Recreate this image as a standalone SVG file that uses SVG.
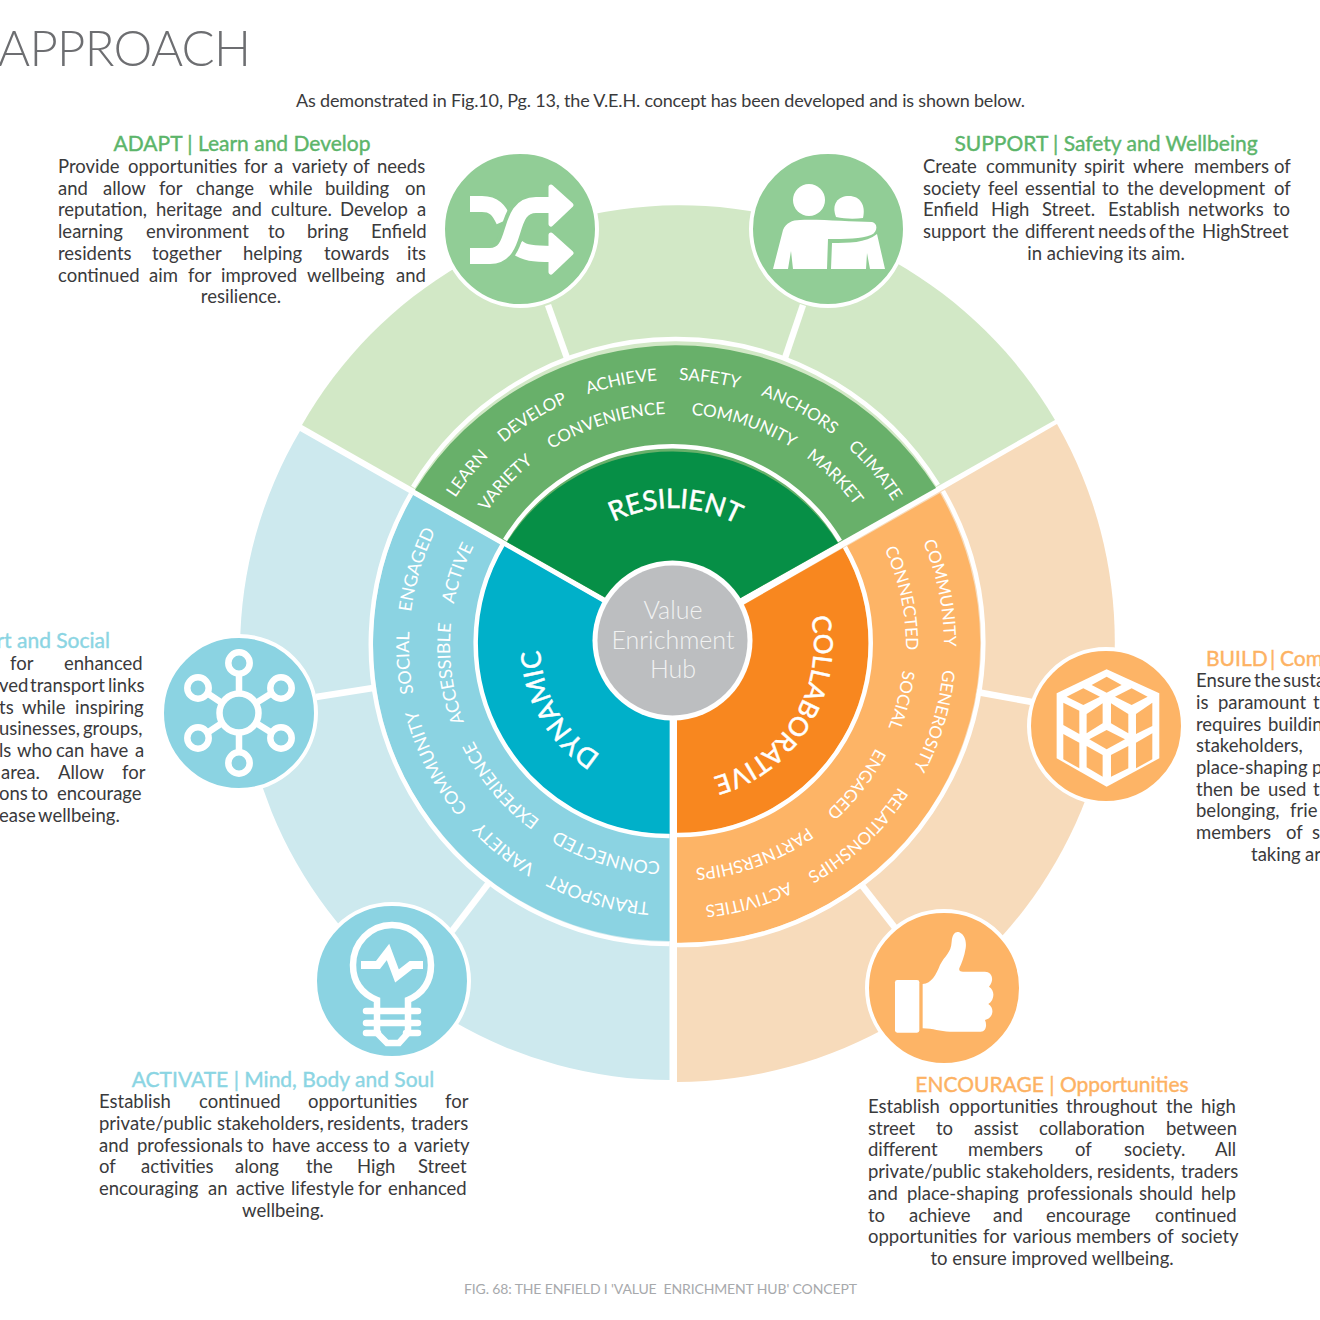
<svg xmlns="http://www.w3.org/2000/svg" width="1320" height="1320" viewBox="0 0 1320 1320">
<style>
text{font-family:Lato,"Noto Sans","Liberation Sans",sans-serif}
.b{font-size:18.500px;fill:#3a3a3c}
.h{font-size:21px;stroke-width:.4}
.hg{fill:#5cb56a;stroke:#5cb56a}.hb{fill:#8bd5e3;stroke:#8bd5e3}.ho{fill:#fdb263;stroke:#fdb263}
.w{font-size:17px;fill:#fff;text-anchor:middle}
.wb{font-size:17.800px}
.W{font-size:27px;fill:#fff;text-anchor:middle;stroke:#fff;stroke-width:.5}
.c{text-anchor:middle}
.arc{fill:none;stroke:#fff;stroke-width:4.5}
.con{stroke:#fff;stroke-width:6.5;fill:none}
.ring{stroke:#fff;stroke-width:4}
.ig{fill:#fff}
.ln{fill:none;stroke:#fff}
</style>
<defs>
<path id="r260" d="M-260 0A260 260 0 0 1 260 0"/>
<path id="r226" d="M-226 0A226 226 0 0 1 226 0"/>
<path id="r258" d="M-258 0A258 258 0 0 1 258 0"/>
<path id="r217" d="M-217 0A217 217 0 0 1 217 0"/>
<path id="r262" d="M-262 0A262 262 0 0 1 262 0"/>
<path id="r224" d="M-224 0A224 224 0 0 1 224 0"/>
<path id="r134" d="M-134 0A134 134 0 0 1 134 0"/>
<path id="r130" d="M-130 0A130 130 0 0 1 130 0"/>
<path id="r137" d="M-137 0A137 137 0 0 1 137 0"/>
</defs>
<rect width="1320" height="1320" fill="#fff"/>
<text x="-2" y="66" font-size="49" font-weight="300" fill="#6d6e71" textLength="253">APPROACH</text>
<text x="296" y="107" font-size="18" fill="#3a3a3c" textLength="729">As demonstrated in Fig.10, Pg. 13, the V.E.H. concept has been developed and is shown below.</text>

<g id="outer-ring">
<path fill="#d2e8c6" d="M673 636L302 425A435 435 0 0 1 1055 420Z"/>
<path fill="#cde9ee" d="M670 641L300 431A430 430 0 0 0 669.500 1080V641Z"/>
<path fill="#f7dbbb" d="M677 643V1082A440 440 0 0 0 1057 424Z"/>
</g>

<g id="connectors">
<path class="con" d="M548 305L567 358"/>
<path class="con" d="M803 305L785 358"/>
<path class="con" d="M977 692L1032 702"/>
<path class="con" d="M860 883L896 929"/>
<path class="con" d="M316 697L373 688"/>
<path class="con" d="M452 931L488 884"/>
</g>

<g id="resilient">
<path fill="#68b06a" d="M673 636L415 490A308 308 0 0 1 936 488Z"/>
<path class="arc" d="M413 487A308 308 0 0 1 938 485"/>
<path fill="#068f46" d="M673 636L507 542A196 196 0 0 1 838 543Z"/>
<path class="arc" d="M505 540A196 196 0 0 1 840 541"/>
<text class="w" transform="translate(673 640) rotate(-51)"><textPath href="#r260" startOffset="50%">LEARN</textPath></text>
<text class="w" transform="translate(673 640) rotate(-32.300)"><textPath href="#r260" startOffset="50%">DEVELOP</textPath></text>
<text class="w" transform="translate(673 640) rotate(-11.300)"><textPath href="#r260" startOffset="50%">ACHIEVE</textPath></text>
<text class="w" transform="translate(673 640) rotate(8)"><textPath href="#r260" startOffset="50%">SAFETY</textPath></text>
<text class="w" transform="translate(673 640) rotate(28.800)"><textPath href="#r260" startOffset="50%">ANCHORS</textPath></text>
<text class="w" transform="translate(673 640) rotate(50)"><textPath href="#r260" startOffset="50%">CLIMATE</textPath></text>
<text class="w" transform="translate(673 640) rotate(-46.800)"><textPath href="#r226" startOffset="50%">VARIETY</textPath></text>
<text class="w" transform="translate(673 640) rotate(-17.200)"><textPath href="#r226" startOffset="50%">CONVENIENCE</textPath></text>
<text class="w" transform="translate(673 640) rotate(18.200)"><textPath href="#r226" startOffset="50%">COMMUNITY</textPath></text>
<text class="w" transform="translate(673 640) rotate(44.800)"><textPath href="#r226" startOffset="50%">MARKET</textPath></text>
<text class="W" transform="translate(673 642) rotate(1)"><textPath href="#r134" startOffset="50%">RESILIENT</textPath></text>
</g>

<g id="dynamic">
<path fill="#8bd3e2" d="M670 641L413 495A297 297 0 0 0 669.500 941V641Z"/>
<path class="arc" d="M411 494A300 300 0 0 0 669.500 944"/>
<path fill="#00b0c9" d="M670 641L504 546A190 190 0 0 0 669.500 834V641Z"/>
<path class="arc" d="M503 544A193 193 0 0 0 669.500 836"/>
<text class="w wb" transform="translate(667 645) rotate(-73.200)"><textPath href="#r258" startOffset="50%">ENGAGED</textPath></text>
<text class="w wb" transform="translate(667 645) rotate(-93.900)"><textPath href="#r258" startOffset="50%">SOCIAL</textPath></text>
<text class="w wb" transform="translate(667 645) rotate(-117)"><textPath href="#r258" startOffset="50%">COMMUNITY</textPath></text>
<text class="w wb" transform="translate(669 645) rotate(-141)"><textPath href="#r258" startOffset="50%">VARIETY</textPath></text>
<text class="w wb" transform="translate(670 645) rotate(-164)"><textPath href="#r258" startOffset="50%">TRANSPORT</textPath></text>
<text class="w wb" transform="translate(667 645) rotate(-71)"><textPath href="#r217" startOffset="50%">ACTIVE</textPath></text>
<text class="w wb" transform="translate(667 645) rotate(-97.500)"><textPath href="#r217" startOffset="50%">ACCESSIBLE</textPath></text>
<text class="w wb" transform="translate(668 645) rotate(-130)"><textPath href="#r217" startOffset="50%">EXPERIENCE</textPath></text>
<text class="w wb" transform="translate(670 645) rotate(-163)"><textPath href="#r217" startOffset="50%">CONNECTED</textPath></text>
<text class="W" transform="translate(670 645) rotate(-120)"><textPath href="#r130" startOffset="50%">DYNAMIC</textPath></text>
</g>

<g id="collaborative">
<path fill="#fdb466" d="M677 643L940 493A300 300 0 0 1 677 943Z"/>
<path class="arc" d="M943 491A303 303 0 0 1 677 945"/>
<path fill="#f8871f" d="M677 643L843 548A190 190 0 0 1 677 833Z"/>
<path class="arc" d="M845 547A192 192 0 0 1 677 835"/>
<text class="w" transform="translate(682 645) rotate(78.600)"><textPath href="#r262" startOffset="50%">COMMUNITY</textPath></text>
<text class="w" transform="translate(682 645) rotate(106.700)"><textPath href="#r262" startOffset="50%">GENEROSITY</textPath></text>
<text class="w" transform="translate(678.500 645) rotate(136.700)"><textPath href="#r262" startOffset="50%">RELATIONSHIPS</textPath></text>
<text class="w" transform="translate(677 645) rotate(164.300)"><textPath href="#r262" startOffset="50%">ACTIVITIES</textPath></text>
<text class="w" transform="translate(682 645) rotate(78)"><textPath href="#r224" startOffset="50%">CONNECTED</textPath></text>
<text class="w" transform="translate(680 645) rotate(104)"><textPath href="#r224" startOffset="50%">SOCIAL</textPath></text>
<text class="w" transform="translate(677 645) rotate(127.800)"><textPath href="#r224" startOffset="50%">ENGAGED</textPath></text>
<text class="w" transform="translate(677 645) rotate(159.800)"><textPath href="#r224" startOffset="50%">PARTNERSHIPS</textPath></text>
<text class="W" style="font-size:26px" transform="translate(677 645) rotate(121.500)"><textPath href="#r137" startOffset="50%">COLLABORATIVE</textPath></text>
</g>

<g id="hub">
<circle cx="672.500" cy="640.500" r="80" fill="#fff"/>
<circle cx="672.500" cy="640.500" r="75" fill="#bcbec0"/>
<g font-size="25" font-weight="300" fill="#f1f2f2">
<text class="c" x="673" y="619">Value</text>
<text class="c" x="673" y="649">Enrichment</text>
<text class="c" x="673" y="678">Hub</text>
</g>
</g>

<g id="adapt-icon">
<circle class="ring" cx="520" cy="229" r="77" fill="#91cd96"/>
<g class="ln" stroke-width="16">
<path d="M470 204H482C494 204 499 210 504 221"/>
<path d="M517 247C524 253 534 254 552 254"/>
<path d="M470 256H490C520 256 505 205 536 205H552" stroke="#91cd96" stroke-width="24"/>
<path d="M470 256H490C520 256 505 205 536 205H552"/>
</g>
<path class="ig" stroke="#fff" stroke-width="5" stroke-linejoin="round" d="M551 187L571 205L551 224Z"/>
<path class="ig" stroke="#fff" stroke-width="5" stroke-linejoin="round" d="M551 235L571 253L551 272Z"/>
</g>

<g id="support-icon">
<circle class="ring" cx="828" cy="229" r="77" fill="#91cd96"/>
<circle class="ig" cx="809" cy="200" r="16"/>
<path class="ig" d="M836 217C831 204 838 196 849 196C860 196 866 205 863 218C855 219 845 219 836 217Z"/>
<path class="ig" d="M773 269L783 230C786 223 792 220 800 220C820 219 850 222 872 222C878 223 878 232 871 235C862 239 845 239 828 239L827 269H793L791 251L788 269Z"/>
<path class="ig" d="M832 243C848 243 866 243 877 234L885 269H870L867 253L866 269H831Z"/>
</g>

<g id="build-icon">
<circle class="ring" cx="1106" cy="726" r="77" fill="#fdb466"/>
<g transform="translate(850 640) scale(.3333)">
<path class="ig" d="M770 88L928 160V355L770 440L620 355V160Z"/>
<g fill="#fdb466">
<path d="M770 110L815 135L770 158L725 135Z"/>
<path d="M700 145L750 170L700 195L650 170Z"/>
<path d="M845 145L893 170L845 195L795 170Z"/>
<path d="M770 270L825 298L770 328L718 298Z"/>
<path d="M640 188L688 212V282L640 255Z"/>
<path d="M710 222L758 190V250L710 280Z"/>
<path d="M640 282L688 308V385L640 358Z"/>
<path d="M710 318L758 345V410L710 382Z"/>
<path d="M783 190L835 222V280L783 250Z"/>
<path d="M858 222L907 188V258L858 282Z"/>
<path d="M783 345L835 318V385L783 410Z"/>
<path d="M858 308L907 280V358L858 385Z"/>
</g>
</g>
</g>

<g id="encourage-icon">
<circle class="ring" cx="944" cy="988" r="77" fill="#fdb466"/>
<g transform="translate(850 640) scale(.3333)">
<rect class="ig" x="135" y="1020" width="73" height="158" rx="7"/>
<path class="ig" d="M218 1032C245 1030 258 1005 270 975C285 945 303 940 305 905C307 880 318 873 328 877C345 885 350 905 347 925C343 950 335 970 328 985C326 995 335 995 345 995L405 995C425 995 435 1018 417 1040C435 1050 435 1080 415 1092C435 1105 430 1135 405 1140C412 1155 408 1175 392 1175H300C270 1175 250 1165 218 1165Z"/>
</g>
</g>

<g id="connect-icon">
<circle class="ring" cx="239" cy="713" r="77" fill="#8bd3e2"/>
<g class="ln" stroke-width="6.500">
<circle cx="239" cy="713" r="19.500"/>
<circle cx="239" cy="663" r="10.700"/>
<circle cx="198" cy="688" r="10.700"/>
<circle cx="281" cy="688" r="10.700"/>
<circle cx="198" cy="738" r="10.700"/>
<circle cx="281" cy="738" r="10.700"/>
<circle cx="239" cy="763" r="10.700"/>
<path d="M239 674V693M239 733V752M207 693L222 703M256 703L272 693M207 733L222 723M256 723L272 733"/>
</g>
</g>

<g id="activate-icon">
<circle class="ring" cx="392" cy="981" r="77" fill="#8bd3e2"/>
<g class="ln" stroke-width="6.500">
<path d="M377 1011V1000C360 993 353 980 353 965C353 943 370 925 392 925C414 925 431 943 431 965C431 980 424 993 408 1000V1011"/>
<path stroke-width="8" d="M361 965H378L388 952L397 976L411 965H423"/>
<path stroke-linecap="round" d="M366 1011H418M366 1023H418M366 1033H378M406 1033H418"/>
<path d="M377 1011V1033L387 1043H399L408 1033V1011"/>
</g>
</g>

<g id="adapt-text">
<text class="h hg c" x="242" y="151">ADAPT | Learn and Develop</text>
<text class="b" y="173"><tspan x="58">Provide</tspan> <tspan x="128">opportunities</tspan> <tspan x="244">for</tspan> <tspan x="274">a</tspan> <tspan x="292">variety</tspan> <tspan x="353">of</tspan> <tspan x="377">needs</tspan></text>
<text class="b" y="194.700"><tspan x="58">and</tspan> <tspan x="103">allow</tspan> <tspan x="159">for</tspan> <tspan x="196">change</tspan> <tspan x="269">while</tspan> <tspan x="325">building</tspan> <tspan x="405">on</tspan></text>
<text class="b" y="216.400"><tspan x="58">reputation,</tspan> <tspan x="156">heritage</tspan> <tspan x="232">and</tspan> <tspan x="271">culture.</tspan> <tspan x="340">Develop</tspan> <tspan x="417">a</tspan></text>
<text class="b" y="238"><tspan x="58">learning</tspan> <tspan x="146">environment</tspan> <tspan x="268">to</tspan> <tspan x="307">bring</tspan> <tspan x="371">Enfield</tspan></text>
<text class="b" y="259.800"><tspan x="58">residents</tspan> <tspan x="152">together</tspan> <tspan x="243">helping</tspan> <tspan x="324">towards</tspan> <tspan x="407">its</tspan></text>
<text class="b" y="281.500"><tspan x="58">continued</tspan> <tspan x="149">aim</tspan> <tspan x="188">for</tspan> <tspan x="221">improved</tspan> <tspan x="307">wellbeing</tspan> <tspan x="396">and</tspan></text>
<text class="b c" x="241" y="303">resilience.</text>
</g>

<g id="support-text">
<text class="h hg c" x="1106" y="151">SUPPORT | Safety and Wellbeing</text>
<text class="b" y="173"><tspan x="923">Create</tspan> <tspan x="986">community</tspan> <tspan x="1084">spirit</tspan> <tspan x="1133">where</tspan> <tspan x="1194">members</tspan> <tspan x="1274">of</tspan></text>
<text class="b" y="194.700"><tspan x="923">society</tspan> <tspan x="988">feel</tspan> <tspan x="1025">essential</tspan> <tspan x="1102">to</tspan> <tspan x="1127">the</tspan> <tspan x="1159">development</tspan> <tspan x="1274">of</tspan></text>
<text class="b" y="216.400"><tspan x="923">Enfield</tspan> <tspan x="991">High</tspan> <tspan x="1042">Street.</tspan> <tspan x="1108">Establish</tspan> <tspan x="1188">networks</tspan> <tspan x="1273">to</tspan></text>
<text class="b" y="238"><tspan x="923">support</tspan> <tspan x="992">the</tspan> <tspan x="1025">different</tspan> <tspan x="1098">needs</tspan> <tspan x="1149">of</tspan> <tspan x="1168">the</tspan> <tspan x="1202">High</tspan> <tspan x="1240">Street</tspan></text>
<text class="b c" x="1106" y="259.800">in achieving its aim.</text>
</g>

<g id="connect-text">
<text class="h hb" x="110" y="648" text-anchor="end">rt and Social</text>
<text class="b" y="670"><tspan x="10">for</tspan> <tspan x="64">enhanced</tspan></text>
<text class="b" y="692"><tspan x="-1">ved</tspan> <tspan x="30">transport</tspan> <tspan x="108">links</tspan></text>
<text class="b" y="713.500"><tspan x="-1">ts</tspan> <tspan x="22">while</tspan> <tspan x="75">inspiring</tspan></text>
<text class="b" y="735"><tspan x="-1">usinesses,</tspan> <tspan x="83">groups,</tspan></text>
<text class="b" y="757"><tspan x="-1">ls</tspan> <tspan x="17">who</tspan> <tspan x="56">can</tspan> <tspan x="90">have</tspan> <tspan x="135">a</tspan></text>
<text class="b" y="778.500"><tspan x="1">area.</tspan> <tspan x="58">Allow</tspan> <tspan x="122">for</tspan></text>
<text class="b" y="800"><tspan x="-1">ons</tspan> <tspan x="31">to</tspan> <tspan x="57">encourage</tspan></text>
<text class="b" y="822"><tspan x="-1">ease</tspan> <tspan x="38">wellbeing.</tspan></text>
</g>

<g id="build-text">
<text class="h ho" y="666"><tspan x="1206">BUILD</tspan> <tspan x="1270">|</tspan> <tspan x="1280">Com</tspan></text>
<text class="b" y="687"><tspan x="1196">Ensure</tspan> <tspan x="1254">the</tspan> <tspan x="1283">susta</tspan></text>
<text class="b" y="709"><tspan x="1196">is</tspan> <tspan x="1218">paramount</tspan> <tspan x="1313">t</tspan></text>
<text class="b" y="730.500"><tspan x="1196">requires</tspan> <tspan x="1268">buildin</tspan></text>
<text class="b" x="1196" y="752">stakeholders,</text>
<text class="b" y="774"><tspan x="1196">place-shaping</tspan> <tspan x="1312">p</tspan></text>
<text class="b" y="795.500"><tspan x="1196">then</tspan> <tspan x="1240">be</tspan> <tspan x="1268">used</tspan> <tspan x="1313">t</tspan></text>
<text class="b" y="817"><tspan x="1196">belonging,</tspan> <tspan x="1290">frie</tspan></text>
<text class="b" y="839"><tspan x="1196">members</tspan> <tspan x="1286">of</tspan> <tspan x="1312">s</tspan></text>
<text class="b" y="861"><tspan x="1251">taking</tspan> <tspan x="1305">ar</tspan></text>
</g>

<g id="activate-text">
<text class="h hb c" x="283" y="1087">ACTIVATE | Mind, Body and Soul</text>
<text class="b" y="1108"><tspan x="99">Establish</tspan> <tspan x="199">continued</tspan> <tspan x="308">opportunities</tspan> <tspan x="445">for</tspan></text>
<text class="b" y="1130"><tspan x="99">private/public</tspan> <tspan x="217">stakeholders,</tspan> <tspan x="327">residents,</tspan> <tspan x="411">traders</tspan></text>
<text class="b" y="1151.500"><tspan x="99">and</tspan> <tspan x="137">professionals</tspan> <tspan x="247">to</tspan> <tspan x="272">have</tspan> <tspan x="316">access</tspan> <tspan x="373">to</tspan> <tspan x="398">a</tspan> <tspan x="414">variety</tspan></text>
<text class="b" y="1173"><tspan x="99">of</tspan> <tspan x="141">activities</tspan> <tspan x="235">along</tspan> <tspan x="306">the</tspan> <tspan x="357">High</tspan> <tspan x="418">Street</tspan></text>
<text class="b" y="1195"><tspan x="99">encouraging</tspan> <tspan x="208">an</tspan> <tspan x="236">active</tspan> <tspan x="291">lifestyle</tspan> <tspan x="358">for</tspan> <tspan x="388">enhanced</tspan></text>
<text class="b c" x="283" y="1217">wellbeing.</text>
</g>

<g id="encourage-text">
<text class="h ho c" x="1052" y="1092">ENCOURAGE | Opportunities</text>
<text class="b" y="1113"><tspan x="868">Establish</tspan> <tspan x="949">opportunities</tspan> <tspan x="1066">throughout</tspan> <tspan x="1166">the</tspan> <tspan x="1201">high</tspan></text>
<text class="b" y="1134.700"><tspan x="868">street</tspan> <tspan x="936">to</tspan> <tspan x="974">assist</tspan> <tspan x="1039">collaboration</tspan> <tspan x="1166">between</tspan></text>
<text class="b" y="1156.400"><tspan x="868">different</tspan> <tspan x="968">members</tspan> <tspan x="1075">of</tspan> <tspan x="1124">society.</tspan> <tspan x="1215">All</tspan></text>
<text class="b" y="1178"><tspan x="868">private/public</tspan> <tspan x="986">stakeholders,</tspan> <tspan x="1097">residents,</tspan> <tspan x="1181">traders</tspan></text>
<text class="b" y="1199.800"><tspan x="868">and</tspan> <tspan x="907">place-shaping</tspan> <tspan x="1027">professionals</tspan> <tspan x="1139">should</tspan> <tspan x="1201">help</tspan></text>
<text class="b" y="1221.500"><tspan x="868">to</tspan> <tspan x="909">achieve</tspan> <tspan x="993">and</tspan> <tspan x="1046">encourage</tspan> <tspan x="1155">continued</tspan></text>
<text class="b" y="1243"><tspan x="868">opportunities</tspan> <tspan x="983">for</tspan> <tspan x="1013">various</tspan> <tspan x="1076">members</tspan> <tspan x="1157">of</tspan> <tspan x="1181">society</tspan></text>
<text class="b c" x="1052" y="1265">to ensure improved wellbeing.</text>
</g>

<text x="464" y="1294" font-size="14" fill="#a7a9ac" textLength="393">FIG. 68: THE ENFIELD I 'VALUE&#160; ENRICHMENT HUB' CONCEPT</text>
</svg>
